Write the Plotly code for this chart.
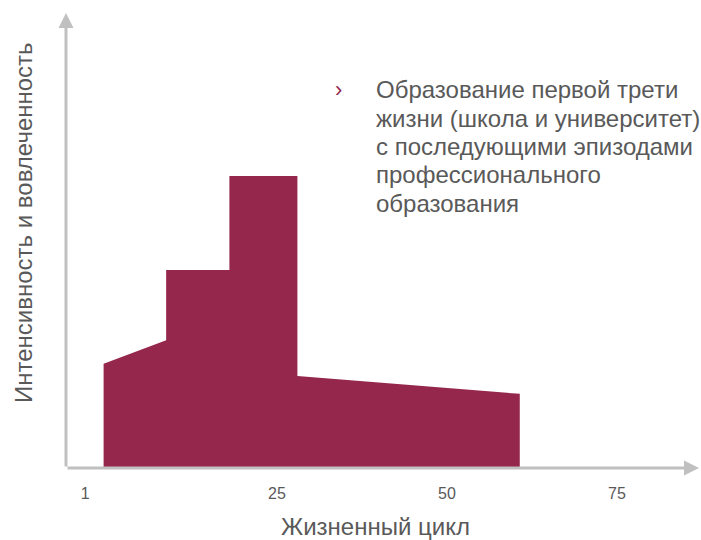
import plotly.graph_objects as go

# Data: life cycle (x) vs intensity/involvement (y)
life_x = [-0.5, -0.5, 8.7, 8.7, 18, 18, 28, 28, 60.7, 60.7]
intensity_y = [0, 22.9, 28.1, 43.5, 43.5, 64.2, 64.2, 20.2, 16.3, 0]
tick_positions = [-3.2, 25, 50, 75]
tick_labels = ["1", "25", "50", "75"]
note_lines = [
    "Образование первой трети",
    "жизни (школа и университет)",
    "с последующими эпизодами",
    "профессионального",
    "образования",
]

maroon = "#95274D"
gray_text = "#595959"
axis_gray = "#C0C0C0"

fig = go.Figure()
fig.add_trace(go.Scatter(
    x=life_x, y=intensity_y, mode="lines", fill="toself",
    fillcolor=maroon, line=dict(width=0, color=maroon),
    hoverinfo="skip", showlegend=False,
))

OFF = 0  # body margin removed via post_script
W, H = 701, 540
L, R, T, B = 66, 2, 13, 72
pw, ph = W - L - R, H - T - B

def px(x):
    return (x - OFF - L) / pw

def py(y):
    return (H - B - (y - OFF)) / ph

annotations = [
    # y axis arrow
    dict(xref="paper", yref="paper", x=0, y=1, ax=0, ay=ph, axref="pixel", ayref="pixel",
         showarrow=True, arrowhead=2, arrowsize=1, arrowwidth=3, arrowcolor=axis_gray, text=""),
    # x axis arrow
    dict(xref="paper", yref="paper", x=1, y=0, ax=-pw, ay=0, axref="pixel", ayref="pixel",
         showarrow=True, arrowhead=2, arrowsize=1, arrowwidth=3, arrowcolor=axis_gray, text=""),
    # bullet
    dict(xref="paper", yref="paper", x=px(338), y=py(90), xanchor="center", yanchor="middle",
         text="›", showarrow=False, font=dict(size=22, color=maroon)),
    # y title
    dict(xref="paper", yref="paper", x=px(23), y=py(223), xanchor="center", yanchor="middle",
         textangle=-90, showarrow=False, text="Интенсивность и вовлеченность",
         font=dict(size=24, color=gray_text)),
    # x title
    dict(xref="paper", yref="paper", x=px(375), y=py(526), xanchor="center", yanchor="middle",
         showarrow=False, text="Жизненный цикл",
         font=dict(size=24, color=gray_text)),
]
for i, line in enumerate(note_lines):
    annotations.append(dict(
        xref="paper", yref="paper", x=px(374), y=py(90 + 28.3 * i),
        xanchor="left", yanchor="middle", align="left", showarrow=False,
        text=line, font=dict(size=24, color=gray_text)))

fig.update_layout(
    width=W, height=H,
    margin=dict(l=L, r=R, t=T, b=B),
    paper_bgcolor="white", plot_bgcolor="white",
    hovermode=False,
    font=dict(family="Liberation Sans, Arial, sans-serif", color=gray_text),
    xaxis=dict(range=[-6.03, 87.06], showgrid=False, zeroline=False, showline=False,
               tickvals=tick_positions, ticktext=tick_labels, ticks="",
               tickfont=dict(size=16, color=gray_text), ticklabelstandoff=14),
    yaxis=dict(range=[0, 100], showgrid=False, zeroline=False, showline=False,
               showticklabels=False, ticks=""),
    annotations=annotations,
)

fig.write_html(
    "out.html",
    config={"displayModeBar": False},
    post_script="document.body.style.margin='0';document.body.style.overflow='hidden';",
)
